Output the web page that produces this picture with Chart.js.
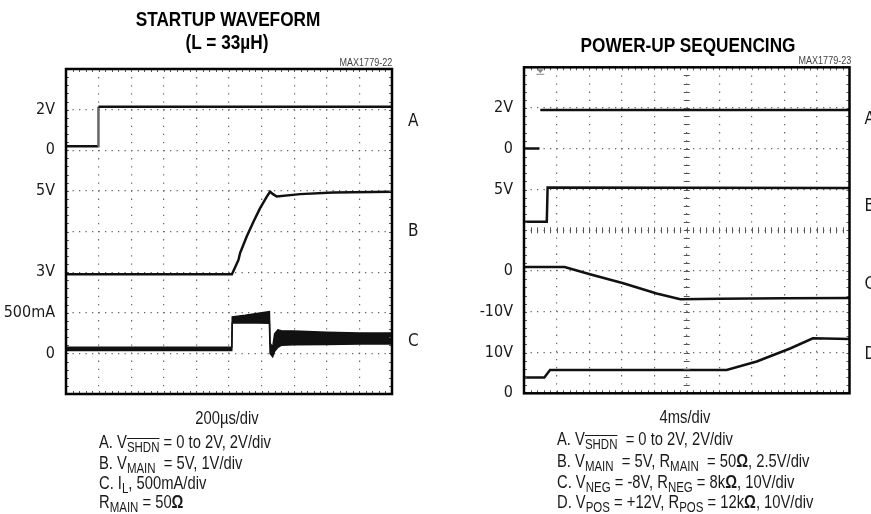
<!DOCTYPE html>
<html>
<head>
<meta charset="utf-8">
<script src="https://cdn.jsdelivr.net/npm/chart.js@4.4.1/dist/chart.umd.min.js"></script>
<style>
  body { margin: 0; width: 871px; height: 514px; position: relative; background: #fff; overflow: hidden;
         font-family: 'Liberation Sans', Arial, sans-serif; color: #1a1a1a; }
  canvas { position: absolute; top: 0; }
  /* narrow lettering: Helvetica-like face squeezed horizontally */
  .t { position: absolute; white-space: nowrap; line-height: 1;
       transform: translateY(-50%) scaleX(0.82); transform-origin: 0 50%; }
  .c { transform: translate(-50%, -50%) scaleX(0.82); transform-origin: 50% 50%; }
  .r { transform-origin: 100% 50%; }
  .title { font-weight: bold; font-size: 21px; color: #000; }
  .note { font-size: 18px; }
  .tag { font-size: 11px; color: #444; }
  .sb { font-size: 14px; position: relative; top: 4px; }
  .ov { text-decoration: overline; }
</style>
</head>
<body>
<canvas id="startup" width="440" height="514" style="left:0"></canvas>
<canvas id="powerup" width="431" height="514" style="left:440px"></canvas>

<div class="t c title" style="left:228px; top:18px">STARTUP WAVEFORM</div>
<div class="t c title" style="left:227px; top:41px">(L = 33µH)</div>
<div class="t r tag" style="right:479px; top:62px">MAX1779-22</div>
<div class="t c title" style="left:688px; top:44px">POWER-UP SEQUENCING</div>
<div class="t r tag" style="right:20px; top:60px">MAX1779-23</div>

<div class="t c note" style="left:227px; top:418px">200µs/div</div>
<div class="t note" style="left:99px; top:442px">A. V<span class="sb ov">SHDN</span> = 0 to 2V, 2V/div</div>
<div class="t note" style="left:99px; top:463px">B. V<span class="sb">MAIN</span>&nbsp; = 5V, 1V/div</div>
<div class="t note" style="left:99px; top:483px">C. I<span class="sb">L</span>, 500mA/div</div>
<div class="t note" style="left:99px; top:502px">R<span class="sb">MAIN</span> = 50<b>Ω</b></div>

<div class="t c note" style="left:685px; top:417px">4ms/div</div>
<div class="t note" style="left:557px; top:439px">A. V<span class="sb ov">SHDN</span>&nbsp; = 0 to 2V, 2V/div</div>
<div class="t note" style="left:557px; top:461px">B. V<span class="sb">MAIN</span>&nbsp; = 5V, R<span class="sb">MAIN</span>&nbsp; = 50<b>Ω</b>, 2.5V/div</div>
<div class="t note" style="left:557px; top:482px">C. V<span class="sb">NEG</span> = -8V, R<span class="sb">NEG</span> = 8k<b>Ω</b>, 10V/div</div>
<div class="t note" style="left:557px; top:502px">D. V<span class="sb">POS</span> = +12V, R<span class="sb">POS</span> = 12k<b>Ω</b>, 10V/div</div>

<script>
// ---- STARTUP WAVEFORM (x: µs, 200µs/div; y: scope divisions counted from the bottom) ----
const stA_t = [0, 198, 199, 2000];
const stA_v = [6.10, 6.10, 7.07, 7.07];
const stB_t = [0, 1018, 1058, 1068, 1108, 1150, 1190, 1232, 1252, 1270, 1293, 1436, 1640, 2000];
const stB_v = [2.95, 2.95, 3.30, 3.47, 3.87, 4.24, 4.57, 4.86, 4.98, 4.92, 4.86, 4.92, 4.96, 4.98];
// inductor current: noisy band, upper and lower edge
const stC_t  = [0, 1017, 1020, 1100, 1180, 1248, 1252, 1268, 1280, 1300, 1320, 1400, 1600, 1800, 2000];
const stC_hi = [1.15, 1.15, 1.90, 1.94, 1.99, 2.03, 1.25, 1.15, 1.48, 1.58, 1.56, 1.55, 1.52, 1.50, 1.50];
const stC_lo = [1.07, 1.07, 1.75, 1.75, 1.75, 1.74, 1.00, 0.92, 1.05, 1.15, 1.20, 1.21, 1.22, 1.23, 1.23];
const stTickDivs = [7, 6, 5, 3, 2, 1];
const stTickText = ['2V', '0', '5V', '3V', '500mA', '0'];
const stLetterDivs = [6.70, 3.99, 1.28];
const stLetters = ['A', 'B', 'C'];

// ---- POWER-UP SEQUENCING (x: ms, 4ms/div; y: divisions) ----
const puA_t = [0, 1.9, 1.95, 2.0, 40];
const puA_v = [6.01, 6.01, null, 6.95, 6.95];
const puB_t = [0, 2.8, 2.9, 40];
const puB_v = [4.21, 4.21, 5.05, 5.04];
const puC_t = [0, 5.0, 8.1, 12.2, 16.3, 19.2, 24, 32, 40];
const puC_v = [3.10, 3.10, 2.92, 2.70, 2.45, 2.31, 2.32, 2.33, 2.34];
const puD_t = [0, 2.5, 3.2, 24.9, 28.6, 32.7, 35.5, 40];
const puD_v = [0.39, 0.39, 0.57, 0.57, 0.78, 1.10, 1.35, 1.33];
const puTickDivs = [7, 6, 5, 3, 2, 1, 0];
const puTickText = ['2V', '0', '5V', '0', '-10V', '10V', '0'];
const puLetterDivs = [6.71, 4.57, 2.66, 0.94];
const puLetters = ['A', 'B', 'C', 'D'];
const puTrigger = 2.0;

const FONT = "'DejaVu Sans Condensed', 'Liberation Sans', sans-serif";
const INK = '#111';

const pts = (t, v) => t.map((x, i) => ({ x, y: v[i] }));

// frame, minor ticks, centre cross, trigger marker
const scopeDecor = {
  id: 'scopeDecor',
  afterDatasetsDraw(chart, args, opts) {
    const { ctx, chartArea: a, scales: { x, y } } = chart;
    const xStep = (x.max - x.min) / 50, yStep = (y.max - y.min) / 40;
    ctx.save();
    ctx.strokeStyle = '#555';
    ctx.lineWidth = 1;
    ctx.beginPath();
    for (let i = 1; i < 50; i++) {
      const px = Math.round(x.getPixelForValue(x.min + i * xStep)) + 0.5;
      ctx.moveTo(px, a.top); ctx.lineTo(px, a.top + 3);
      ctx.moveTo(px, a.bottom); ctx.lineTo(px, a.bottom - 3);
      if (opts.cross) {
        const cy = y.getPixelForValue((y.min + y.max) / 2);
        ctx.moveTo(px, cy - 3); ctx.lineTo(px, cy + 3);
      }
    }
    for (let i = 1; i < 40; i++) {
      const py = Math.round(y.getPixelForValue(y.min + i * yStep)) + 0.5;
      ctx.moveTo(a.left, py); ctx.lineTo(a.left + 3, py);
      ctx.moveTo(a.right, py); ctx.lineTo(a.right - 3, py);
      if (opts.cross) {
        const cx = x.getPixelForValue((x.min + x.max) / 2);
        ctx.moveTo(cx - 3, py); ctx.lineTo(cx + 3, py);
      }
    }
    ctx.stroke();
    if (opts.trigger !== undefined) {
      const tx = x.getPixelForValue(opts.trigger);
      ctx.fillStyle = '#888';
      ctx.beginPath();
      ctx.moveTo(tx - 3.5, a.top + 2); ctx.lineTo(tx + 3.5, a.top + 2); ctx.lineTo(tx, a.top + 6);
      ctx.closePath(); ctx.fill();
      ctx.fillRect(tx - 4, a.top + 6.5, 8, 1);
    }
    ctx.strokeStyle = '#000';
    ctx.lineWidth = 2.5;
    ctx.strokeRect(a.left, a.top, a.width, a.height);
    ctx.restore();
  }
};

function scopeChart(id, cfg) {
  const yTicks = (v) => { const i = cfg.tickDivs.indexOf(v); return i < 0 ? '' : cfg.tickText[i]; };
  return new Chart(document.getElementById(id), {
    type: 'line',
    data: { datasets: cfg.datasets },
    plugins: [scopeDecor],
    options: {
      responsive: false,
      animation: false,
      layout: { padding: { top: cfg.area.top, bottom: cfg.area.bottom, left: 0, right: 0 } },
      elements: { point: { radius: 0 }, line: { tension: 0, borderColor: INK, borderWidth: 2.5 } },
      plugins: { legend: { display: false }, tooltip: { enabled: false }, scopeDecor: cfg.decor },
      scales: {
        x: {
          type: 'linear', min: 0, max: cfg.xMax,
          ticks: { display: false, stepSize: cfg.xMax / 10 },
          grid: { color: '#666', lineWidth: 1.2, drawTicks: false },
          border: { display: false, dash: [1.3, cfg.xDot] },
          afterFit: s => { s.height = 0; }
        },
        y: {
          position: 'left', min: 0, max: 8,
          ticks: { stepSize: 1, autoSkip: false, padding: 11, color: '#1a1a1a',
                   font: { family: FONT, size: 16 }, callback: yTicks },
          grid: { color: '#666', lineWidth: 1.2, drawTicks: false },
          border: { display: false, dash: [1.3, cfg.yDot] },
          afterFit: s => { s.width = cfg.area.left; }
        },
        yr: {
          position: 'right', min: 0, max: 8,
          afterBuildTicks: s => { s.ticks = cfg.letterDivs.map(v => ({ value: v })); },
          ticks: { autoSkip: false, padding: cfg.letterPad, color: '#1a1a1a',
                   font: { family: FONT, size: 17 },
                   callback: v => cfg.letters[cfg.letterDivs.indexOf(v)] },
          grid: { display: false, drawTicks: false },
          border: { display: false },
          afterFit: s => { s.width = cfg.area.right; }
        }
      }
    }
  });
}

const edgeGrey = ctx => Math.abs(ctx.p1.parsed.x - ctx.p0.parsed.x) < 5 ? '#666' : undefined;

scopeChart('startup', {
  xMax: 2000, xDot: 6.8, yDot: 5.2,
  area: { left: 66, right: 48, top: 69, bottom: 120 },
  tickDivs: stTickDivs, tickText: stTickText,
  letterDivs: stLetterDivs, letters: stLetters, letterPad: 16,
  decor: { cross: false },
  datasets: [
    { data: pts(stA_t, stA_v), segment: { borderColor: edgeGrey } },
    { data: pts(stB_t, stB_v) },
    { data: pts(stC_t, stC_hi), borderWidth: 1.5, fill: '+1', backgroundColor: INK },
    { data: pts(stC_t, stC_lo), borderWidth: 1.5, fill: false }
  ]
});

scopeChart('powerup', {
  xMax: 40, xDot: 6.8, yDot: 5.2,
  area: { left: 84, right: 21.5, top: 67.3, bottom: 120.7 },
  tickDivs: puTickDivs, tickText: puTickText,
  letterDivs: puLetterDivs, letters: puLetters, letterPad: 15,
  decor: { cross: true, trigger: puTrigger },
  datasets: [
    { data: pts(puA_t, puA_v), spanGaps: false },
    { data: pts(puB_t, puB_v) },
    { data: pts(puC_t, puC_v) },
    { data: pts(puD_t, puD_v) }
  ]
});
</script>
</body>
</html>
